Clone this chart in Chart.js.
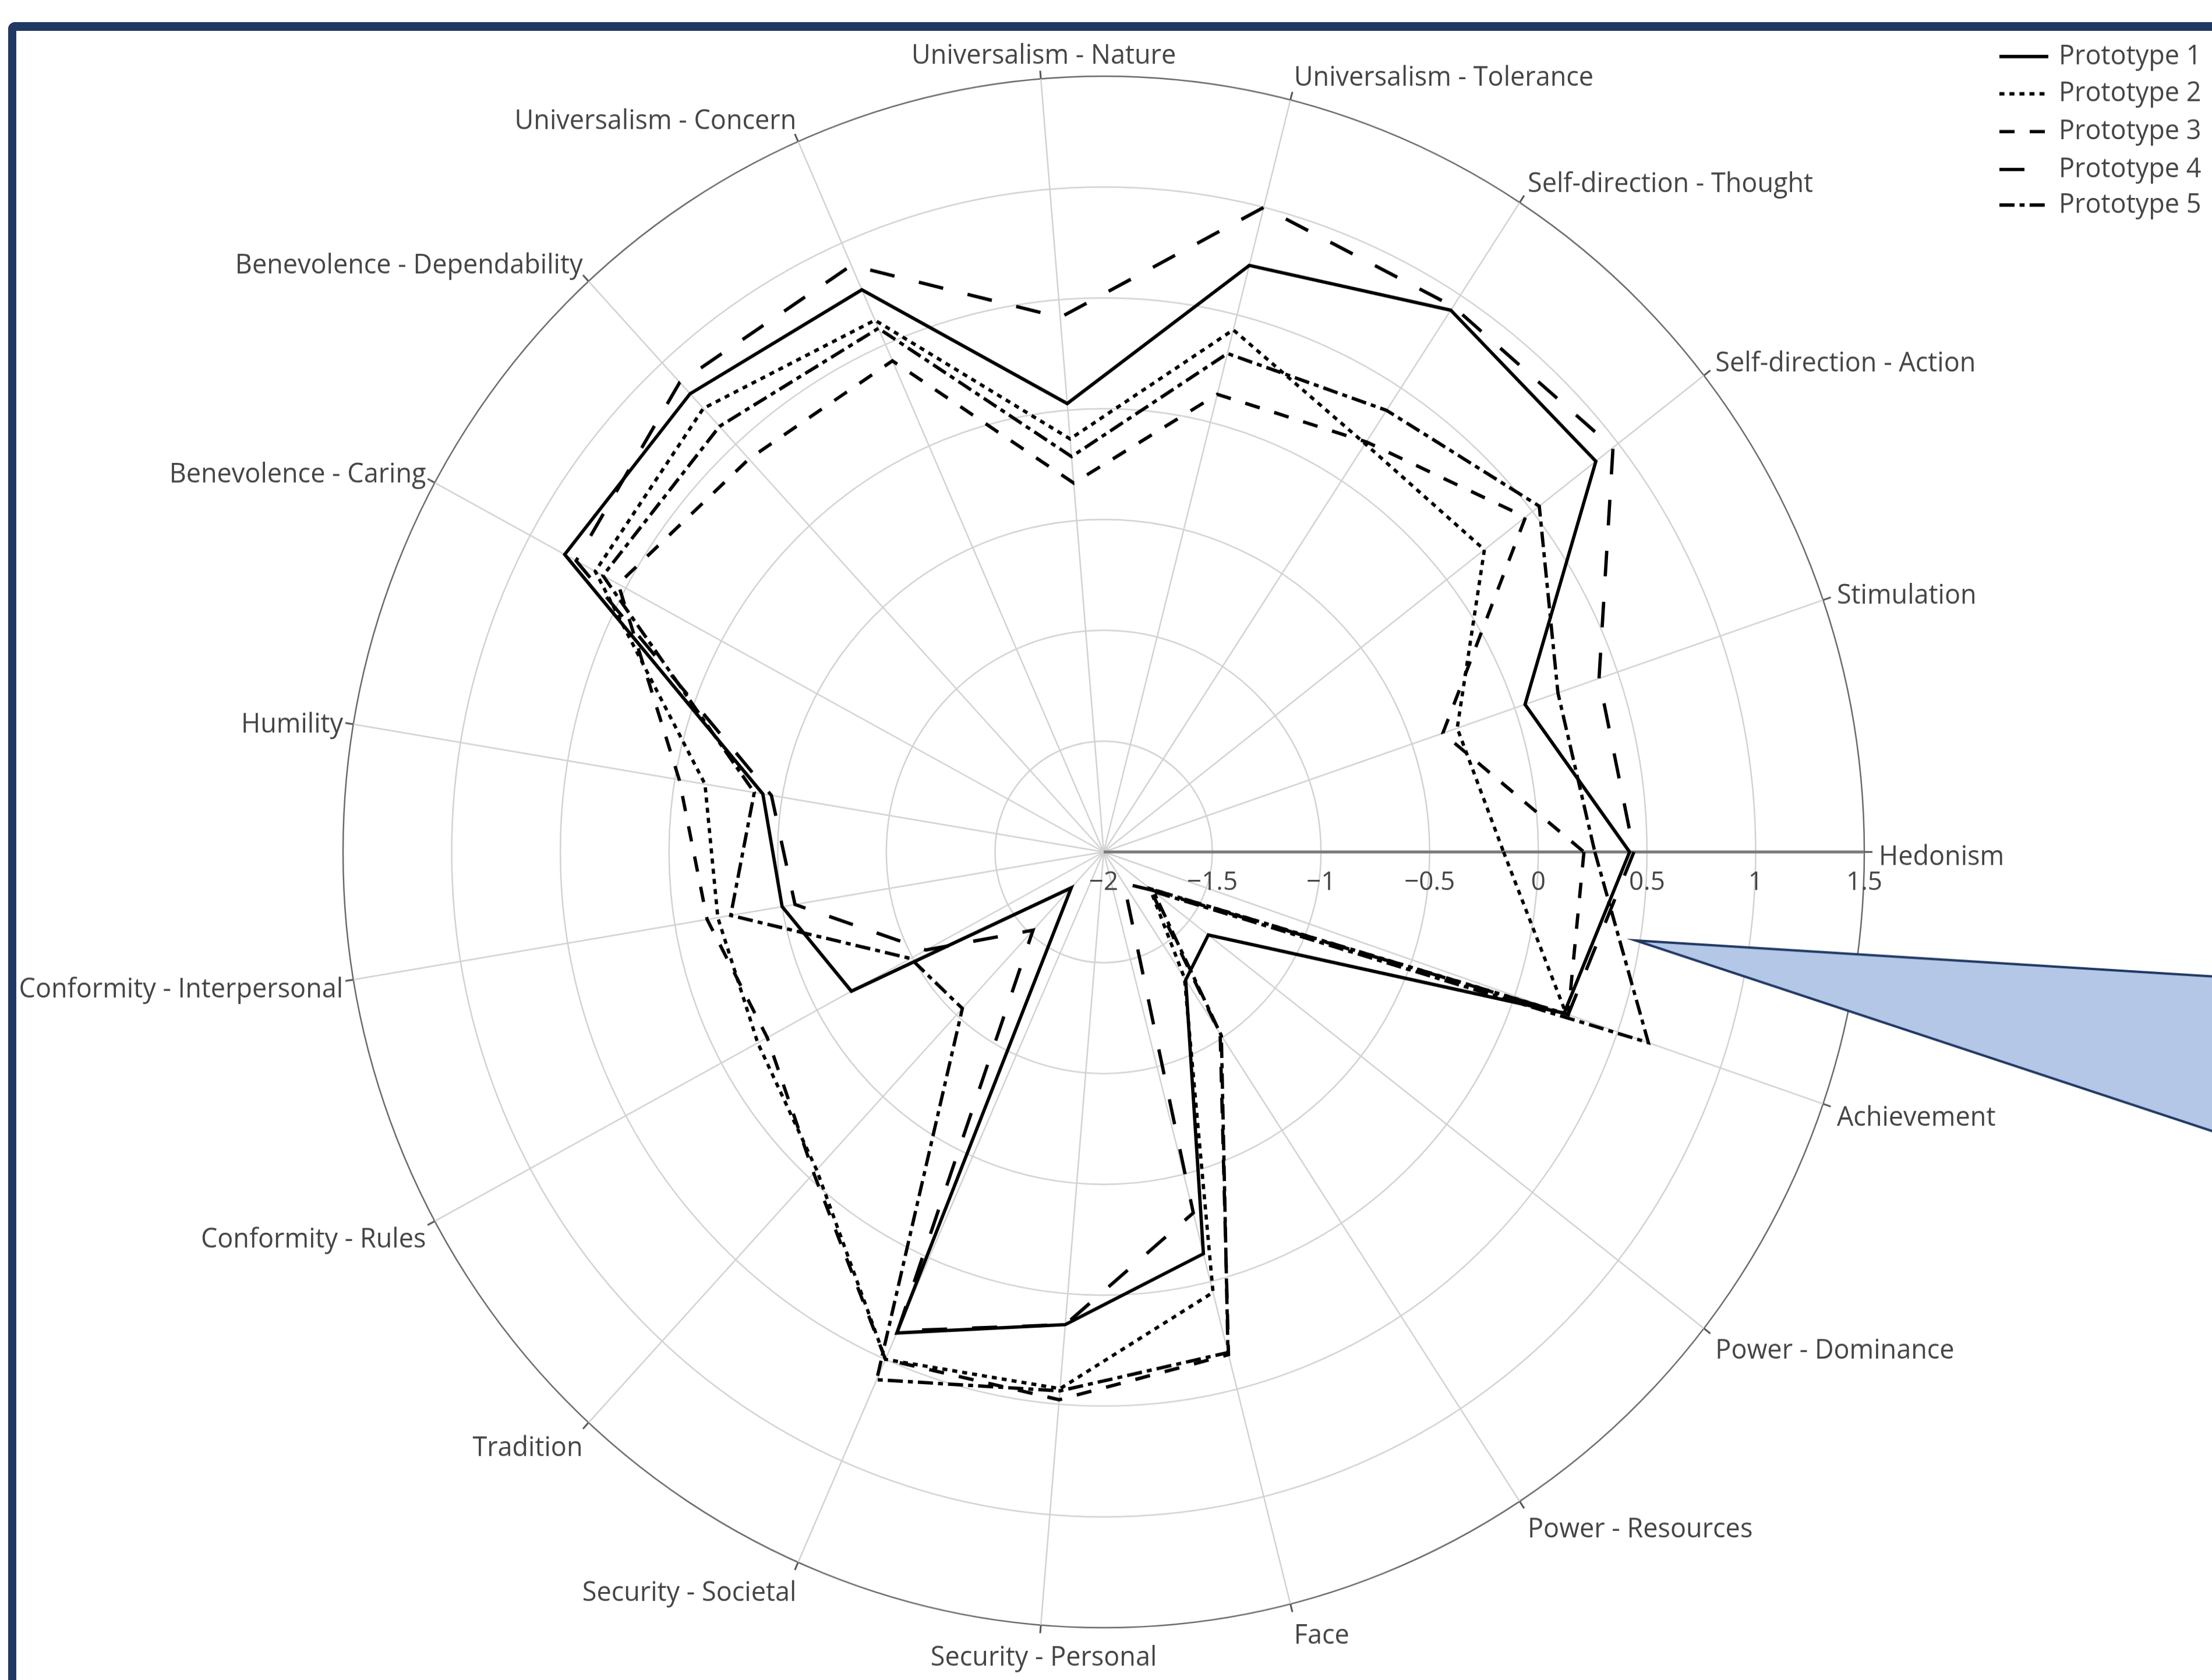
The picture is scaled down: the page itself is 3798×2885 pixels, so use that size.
<!DOCTYPE html>
<html>
<head>
<meta charset="utf-8">
<script src="https://cdn.jsdelivr.net/npm/chart.js@4.4.1/dist/chart.umd.min.js"></script>
<style>
html,body{margin:0;padding:0;background:#fff;overflow:hidden;width:3798px;height:2885px;}
#wrap{position:absolute;left:0;top:0;width:3798px;height:2885px;transform:scaleY(1.02);transform-origin:0 1463px;}
#frame{position:absolute;left:14px;top:38px;width:4000px;height:3000px;border-left:14px solid #203864;border-top:15px solid #203864;border-top-left-radius:12px;pointer-events:none;box-sizing:border-box;}
</style>
</head>
<body>
<div id="wrap"><canvas id="c" width="3798" height="2885"></canvas></div>
<div id="frame"></div>
<script>
// Categories in the order they appear counter-clockwise, starting at Hedonism (east)
const categories = ["Hedonism","Stimulation","Self-direction - Action","Self-direction - Thought","Universalism - Tolerance","Universalism - Nature","Universalism - Concern","Benevolence - Dependability","Benevolence - Caring","Humility","Conformity - Interpersonal","Conformity - Rules","Tradition","Security - Societal","Security - Personal","Face","Power - Resources","Power - Dominance","Achievement"];
const seriesNames = ["Prototype 1","Prototype 2","Prototype 3","Prototype 4","Prototype 5"];
const prototype1 = [0.42, 0.05, 0.87, 0.92, 0.73, 0.03, 0.77, 0.81, 0.82, -0.41, -0.50, -0.68, -1.78, 0.37, 0.14, -0.13, -1.31, -1.39, 0.24];
const prototype2 = [-0.16, -0.28, 0.22, 0.20, 0.43, -0.13, 0.62, 0.72, 0.66, -0.14, -0.20, -0.19, -0.05, 0.50, 0.43, 0.05, -1.32, -1.73, 0.25];
const prototype3 = [0.21, -0.35, 0.46, 0.21, 0.13, -0.33, 0.42, 0.41, 0.54, -0.02, -0.15, -0.24, -0.03, 0.50, 0.48, 0.34, -1.02, -1.73, 0.26];
const prototype4 = [0.44, 0.41, 0.97, 0.94, 1.00, 0.42, 0.89, 0.88, 0.76, -0.45, -0.56, -1.07, -1.52, 0.36, 0.14, -0.32, -1.83, -1.72, 0.26];
const prototype5 = [0.26, 0.21, 0.54, 0.38, 0.32, -0.21, 0.58, 0.61, 0.62, -0.37, -0.26, -0.99, -1.04, 0.60, 0.44, 0.33, -1.01, -1.71, 0.65];
const tickValues = [-2, -1.5, -1, -0.5, 0, 0.5, 1, 1.5];

const N = categories.length;
const STRETCH = 1.02;
const LW = 5.7;
const dashes = [[], [8.6, 8.6], [26, 26], [43, 43], [26, 8.6, 8.6, 8.6]];
const allSeries = [prototype1, prototype2, prototype3, prototype4, prototype5];

// Chart.js goes clockwise; reference goes counter-clockwise -> reorder
const order = [0];
for (let k = N - 1; k >= 1; k--) order.push(k);
const chartLabels = order.map(k => categories[k]);

function fmt(v) { return v < 0 ? '\u2212' + Math.abs(v) : String(v); }

const overlay = {
  id: 'overlay',
  beforeDatasetsDraw(chart) {
    const sc = chart.scales.r, ctx = chart.ctx;
    const cx = sc.xCenter, cy = sc.yCenter, R = sc.drawingArea;
    ctx.save();
    // radial axis line along Hedonism
    const end = sc.getPointPosition(0, R);
    ctx.strokeStyle = '#7a7a7a'; ctx.lineWidth = 5;
    ctx.beginPath(); ctx.moveTo(cx, cy); ctx.lineTo(end.x, end.y); ctx.stroke();
    // angular ticks and labels
    ctx.fillStyle = '#444';
    ctx.textBaseline = 'middle';
    ctx.font = '45px "Open Sans"';
    categories.forEach((name, k) => {
      const i = (N - k) % N;
      const a = sc.getPointPosition(i, R).angle;
      const c = Math.cos(a), s = Math.sin(a);
      ctx.strokeStyle = '#555'; ctx.lineWidth = 3;
      ctx.beginPath();
      ctx.moveTo(cx + R * c, cy + R * s);
      ctx.lineTo(cx + (R + 14) * c, cy + (R + 14) * s);
      ctx.stroke();
      let x = cx + (R + 25) * c;
      const y = cy + (R + 25) * s + 22 * s + 9;
      const align = c > 0.1 ? 'left' : (c < -0.1 ? 'right' : 'center');
      if (align !== 'left') x += 7;
      ctx.textAlign = align;
      ctx.fillText(name, x, y);
    });
    // radial tick labels
    ctx.font = '44px "Open Sans"';
    ctx.textAlign = 'center';
    tickValues.forEach(v => {
      const d = sc.getDistanceFromCenterForValue(v);
      ctx.fillText(fmt(v), cx + d, cy + 51);
    });
    ctx.restore();
  },
  afterDraw(chart) {
    const ctx = chart.ctx;
    const cy = chart.scales.r.yCenter;
    const Y = y => cy + (y - cy) / STRETCH;
    ctx.save();
    // callout shape
    ctx.beginPath();
    ctx.moveTo(2808, Y(1615));
    ctx.lineTo(3900, Y(1683));
    ctx.lineTo(3900, Y(1976));
    ctx.closePath();
    ctx.fillStyle = '#b4c7e7';
    ctx.fill();
    ctx.strokeStyle = '#1f3864';
    ctx.lineWidth = 4;
    ctx.lineJoin = 'miter';
    ctx.stroke();
    // legend
    const rows = [97, 161, 226, 291, 352];
    ctx.font = '45px "Open Sans"';
    ctx.textAlign = 'left';
    ctx.textBaseline = 'middle';
    seriesNames.forEach((nm, j) => {
      const y = Y(rows[j]);
      ctx.strokeStyle = '#000';
      ctx.lineWidth = LW;
      ctx.lineCap = 'butt';
      ctx.setLineDash(dashes[j]);
      ctx.beginPath(); ctx.moveTo(3433, y); ctx.lineTo(3517, y); ctx.stroke();
      ctx.setLineDash([]);
      ctx.fillStyle = '#444';
      ctx.fillText(nm, 3535, y);
    });
    ctx.restore();
  }
};

new Chart(document.getElementById('c'), {
  type: 'radar',
  data: {
    labels: chartLabels,
    datasets: allSeries.map((arr, j) => ({
      label: seriesNames[j],
      data: order.map(k => arr[k]),
      borderColor: '#000',
      backgroundColor: 'rgba(0,0,0,0)',
      borderWidth: LW,
      borderDash: dashes[j],
      fill: false,
      pointRadius: 0,
      pointHoverRadius: 0,
      tension: 0
    }))
  },
  options: {
    responsive: false,
    devicePixelRatio: 1,
    animation: false,
    layout: { padding: { left: 589, right: 597, top: 157, bottom: 116 } },
    plugins: { legend: { display: false }, tooltip: { enabled: false } },
    elements: { line: { borderJoinStyle: 'miter' } },
    scales: {
      r: {
        min: -2, max: 1.5,
        startAngle: 90,
        ticks: { stepSize: 0.5, display: false },
        grid: {
          circular: true,
          color: ctx => (ctx.tick && ctx.tick.value === 1.5) ? '#6a6a6a' : '#d2d2d2',
          lineWidth: 2.5
        },
        angleLines: { color: '#d2d2d2', lineWidth: 2.5 },
        pointLabels: { display: false }
      }
    }
  },
  plugins: [overlay]
});
</script>
</body>
</html>
